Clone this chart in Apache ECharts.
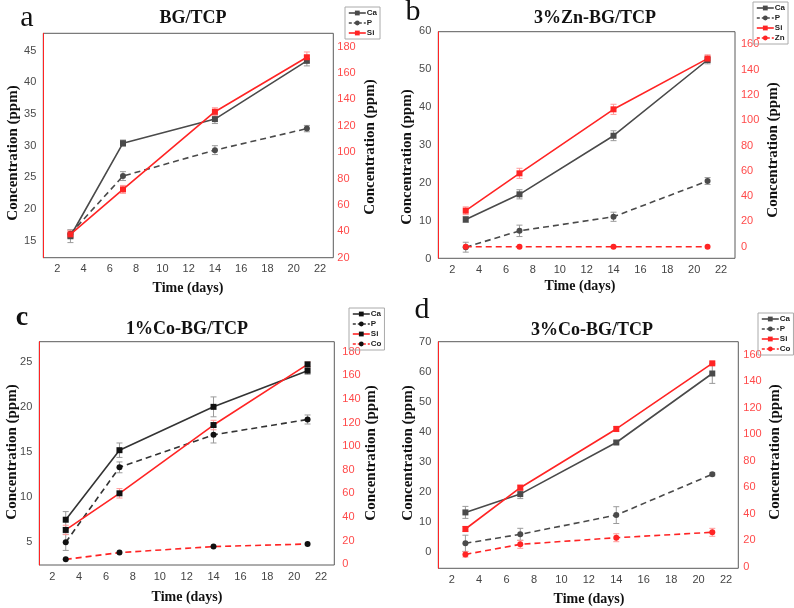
<!DOCTYPE html>
<html>
<head>
<meta charset="utf-8">
<script src="https://cdn.jsdelivr.net/npm/echarts@6/dist/echarts.min.js"></script>
<style>
html, body { margin: 0; padding: 0; background: #fff; }
#chart { width: 794px; height: 608px; }
</style>
</head>
<body>
<div id="chart"></div>
<script>
const days = [3, 7, 14, 21]

// a: BG/TCP
const caA = [15.7, 30.4, 34.2, 43.4]
const caAErr = [1.0, 0.5, 0.7, 0.8]
const pA = [16.1, 25.2, 29.3, 32.7]
const pAErr = [0.6, 0.7, 0.7, 0.5]
const siA = [37.7, 71.8, 130.7, 172]
const siAErr = [3, 3, 3, 4]

// b: 3%Zn-BG/TCP
const caB = [10.4, 17.0, 32.4, 52.3]
const caBErr = [0.8, 1.2, 1.3, 1.0]
const pB = [3.1, 7.4, 11.1, 20.5]
const pBErr = [1.3, 1.5, 1.2, 0.9]
const siB = [28.5, 58, 108.6, 148.7]
const siBErr = [3, 4, 4, 3]
const znB = [0, 0, 0, 0]

// c: 1%Co-BG/TCP
const caC = [7.5, 15.2, 20.0, 24.0]
const caCErr = [0.9, 0.8, 1.1, 0.4]
const pC = [5.0, 13.3, 16.9, 18.6]
const pCErr = [0.9, 0.6, 0.9, 0.5]
const siC = [29.1, 60.1, 117.9, 169.3]
const siCErr = [4, 4, 4, 2]
const coC = [4.2, 9.9, 15.0, 17.2]

// d: 3%Co-BG/TCP
const caD = [13.1, 19.2, 36.4, 59.4]
const caDErr = [2.0, 1.5, 0.5, 3.3]
const pD = [2.8, 5.8, 12.2, 25.8]
const pDErr = [2.7, 2.0, 2.8, 0.5]
const siD = [28.5, 59.7, 104.1, 153.7]
const siDErr = [2, 2, 2, 1]
const coD = [9.3, 16.9, 21.9, 26.0]
const coDErr = [2, 3, 3, 3]

const xTicks = { min: 2, max: 22, interval: 2 }

const GRAY = '#4a4a4a'
const RED = '#ff2424'
const RED_LABEL = '#ff4a4a'
const ERR_GRAY = '#9a9a9a'
const ERR_RED = '#ff9a9a'

const SANS = '"Liberation Sans", Arial, sans-serif'
const SERIF = '"Liberation Serif", "Times New Roman", serif'

// layout of each panel (pixels)
const panels = [
  {
    id: 'a', title: 'BG/TCP', letter: [27, 18], letterFont: 'normal 30px',
    titlePos: [193, 18],
    box: [43.3, 33.3, 333.3, 257.7], xPx: [57.3, 320],
    left: { min: 15, max: 45, interval: 5, top: 50.7, bottom: 240.7 },
    right: { min: 20, max: 180, interval: 20, top: 46.7, bottom: 257.7, margin: 4 },
    yTitleL: [13, 153], yTitleR: [370, 147], xTitle: [188, 288],
    legend: [345, 7],
    series: [
      { name: 'Ca', data: caA, err: caAErr, side: 'L', symbol: 'rect', color: GRAY },
      { name: 'P', data: pA, err: pAErr, side: 'L', symbol: 'circle', color: GRAY, dashed: true },
      { name: 'Si', data: siA, err: siAErr, side: 'R', symbol: 'rect', color: RED }
    ]
  },
  {
    id: 'b', title: '3%Zn-BG/TCP', letter: [413, 12], letterFont: 'normal 30px',
    titlePos: [595, 18],
    box: [438.3, 31.7, 735, 258.3], xPx: [452.3, 721],
    left: { min: 0, max: 60, interval: 10, top: 30.7, bottom: 259 },
    right: { min: 0, max: 160, interval: 20, top: 44.3, bottom: 246.7, margin: 6 },
    yTitleL: [407, 157], yTitleR: [773, 150], xTitle: [580, 286],
    legend: [753, 2],
    series: [
      { name: 'Ca', data: caB, err: caBErr, side: 'L', symbol: 'rect', color: GRAY },
      { name: 'P', data: pB, err: pBErr, side: 'L', symbol: 'circle', color: GRAY, dashed: true },
      { name: 'Si', data: siB, err: siBErr, side: 'R', symbol: 'rect', color: RED },
      { name: 'Zn', data: znB, side: 'R', symbol: 'circle', color: RED, dashed: true }
    ]
  },
  {
    id: 'c', title: '1%Co-BG/TCP', letter: [22, 318], letterFont: 'bold 28px',
    titlePos: [187, 329],
    box: [39.3, 341.7, 334.3, 565], xPx: [52.3, 321],
    left: { min: 5, max: 25, interval: 5, top: 361.7, bottom: 542.3 },
    right: { min: 0, max: 180, interval: 20, top: 351.7, bottom: 564.3, margin: 8 },
    yTitleL: [12, 452], yTitleR: [371, 453], xTitle: [187, 597],
    legend: [349, 308],
    marker: '#111',
    series: [
      { name: 'Ca', data: caC, err: caCErr, side: 'L', symbol: 'rect', color: '#333' },
      { name: 'P', data: pC, err: pCErr, side: 'L', symbol: 'circle', color: '#333', dashed: true },
      { name: 'Si', data: siC, err: siCErr, side: 'R', symbol: 'rect', color: RED },
      { name: 'Co', data: coC, side: 'R', symbol: 'circle', color: RED, dashed: true }
    ]
  },
  {
    id: 'd', title: '3%Co-BG/TCP', letter: [422, 310], letterFont: 'normal 30px',
    titlePos: [592, 330],
    box: [438.3, 341.7, 738.3, 568.3], xPx: [451.7, 726],
    left: { min: 0, max: 70, interval: 10, top: 341.7, bottom: 551.7 },
    right: { min: 0, max: 160, interval: 20, top: 355, bottom: 566.7, margin: 5 },
    yTitleL: [408, 453], yTitleR: [775, 452], xTitle: [589, 599],
    legend: [758, 313],
    series: [
      { name: 'Ca', data: caD, err: caDErr, side: 'L', symbol: 'rect', color: GRAY },
      { name: 'P', data: pD, err: pDErr, side: 'L', symbol: 'circle', color: GRAY, dashed: true },
      { name: 'Si', data: siD, err: siDErr, side: 'R', symbol: 'rect', color: RED },
      { name: 'Co', data: coD, err: coDErr, side: 'R', symbol: 'circle', color: RED, dashed: true }
    ]
  }
]

function errorBars (params, api) {
  const x = api.value(0)
  const v = api.value(1)
  const e = api.value(2)
  const hi = api.coord([x, v + e])
  const lo = api.coord([x, v - e])
  const style = { stroke: api.visual('color'), lineWidth: 1 }
  return {
    type: 'group',
    children: [
      { type: 'line', shape: { x1: hi[0], y1: hi[1], x2: lo[0], y2: lo[1] }, style },
      { type: 'line', shape: { x1: hi[0] - 3, y1: hi[1], x2: hi[0] + 3, y2: hi[1] }, style },
      { type: 'line', shape: { x1: lo[0] - 3, y1: lo[1], x2: lo[0] + 3, y2: lo[1] }, style }
    ]
  }
}

const grid = []
const xAxis = []
const yAxis = []
const series = []
const legend = []
const graphic = []

panels.forEach(p => {
  const [bl, bt, br, bb] = p.box
  const [x0, x1] = p.xPx
  const g = grid.length

  // frame of the panel
  grid.push({ left: bl, top: bt, width: br - bl, height: bb - bt, show: true, borderColor: '#5a5a5a', borderWidth: 1, outerBoundsMode: 'none' })
  xAxis.push({ gridIndex: g, type: 'value', min: 0, max: 1, show: false })
  yAxis.push({
    gridIndex: g, type: 'value', min: 0, max: 1, position: 'right',
    axisLine: { show: true, lineStyle: { color: RED, width: 1 } },
    axisTick: { show: false }, axisLabel: { show: false }, splitLine: { show: false }
  })

  // left value axis + visible time axis
  grid.push({ left: x0, top: p.left.top, width: x1 - x0, height: p.left.bottom - p.left.top, outerBoundsMode: 'none' })
  xAxis.push({
    gridIndex: g + 1, type: 'value', ...xTicks,
    offset: bb - p.left.bottom,
    axisLine: { show: false }, axisTick: { show: false }, splitLine: { show: false },
    axisLabel: { color: '#444', fontSize: 11, fontFamily: SANS, margin: 6 }
  })
  yAxis.push({
    gridIndex: g + 1, type: 'value', min: p.left.min, max: p.left.max, interval: p.left.interval,
    position: 'left', offset: x0 - bl,
    axisLine: { show: false }, axisTick: { show: false }, splitLine: { show: false },
    axisLabel: { color: '#4a4a4a', fontSize: 11, fontFamily: SANS, margin: 7 }
  })

  // right value axis
  grid.push({ left: x0, top: p.right.top, width: x1 - x0, height: p.right.bottom - p.right.top, outerBoundsMode: 'none' })
  xAxis.push({ gridIndex: g + 2, type: 'value', ...xTicks, show: false })
  yAxis.push({
    gridIndex: g + 2, type: 'value', min: p.right.min, max: p.right.max, interval: p.right.interval,
    position: 'right', offset: br - x1,
    axisLine: { show: false }, axisTick: { show: false }, splitLine: { show: false },
    axisLabel: { color: RED_LABEL, fontSize: 11, fontFamily: SANS, margin: p.right.margin }
  })

  const legendData = []
  p.series.forEach(s => {
    const idx = s.side === 'L' ? g + 1 : g + 2
    const name = s.name + '_' + p.id
    legendData.push({
      name,
      lineStyle: { color: s.color, width: 1.6, type: s.dashed ? [3, 2] : 'solid' }
    })
    series.push({
      name,
      type: 'line',
      xAxisIndex: idx,
      yAxisIndex: idx,
      data: days.map((d, i) => [d, s.data[i]]),
      symbol: s.symbol,
      symbolSize: 6,
      clip: false,
      z: 3,
      itemStyle: { color: p.marker || s.color },
      lineStyle: { color: s.color, width: 1.6, type: s.dashed ? [6, 4] : 'solid' }
    })
    if (s.err) {
      series.push({
        type: 'custom',
        xAxisIndex: idx,
        yAxisIndex: idx,
        renderItem: errorBars,
        itemStyle: { color: s.color === RED ? ERR_RED : ERR_GRAY },
        encode: { x: 0, y: 1 },
        data: days.map((d, i) => [d, s.data[i], s.err[i]]),
        z: 2,
        silent: true
      })
    }
  })

  legend.push({
    data: legendData,
    orient: 'vertical',
    left: p.legend[0],
    top: p.legend[1],
    itemWidth: 17,
    itemHeight: 6,
    itemGap: 2,
    padding: [2, 3, 2, 3],
    borderColor: '#aaa',
    borderWidth: 1,
    selectedMode: false,
    formatter: n => n.split('_')[0],
    textStyle: { fontSize: 8, fontWeight: 'bold', fontFamily: SANS, color: '#222', padding: [0, 0, 0, -4] }
  })

  graphic.push(
    { type: 'text', x: p.letter[0], y: p.letter[1], style: { text: p.id, font: p.letterFont + ' ' + SERIF, fill: '#111', align: 'center', verticalAlign: 'middle' } },
    { type: 'text', x: p.titlePos[0], y: p.titlePos[1], style: { text: p.title, font: 'bold 18px ' + SERIF, fill: '#111', align: 'center', verticalAlign: 'middle' } },
    { type: 'text', x: p.xTitle[0], y: p.xTitle[1], style: { text: 'Time (days)', font: 'bold 14px ' + SERIF, fill: '#111', align: 'center', verticalAlign: 'middle' } },
    { type: 'text', x: p.yTitleL[0], y: p.yTitleL[1], rotation: Math.PI / 2, style: { text: 'Concentration (ppm)', font: 'bold 15px ' + SERIF, fill: '#111', align: 'center', verticalAlign: 'middle' } },
    { type: 'text', x: p.yTitleR[0], y: p.yTitleR[1], rotation: Math.PI / 2, style: { text: 'Concentration (ppm)', font: 'bold 15px ' + SERIF, fill: '#111', align: 'center', verticalAlign: 'middle' } }
  )
})

const myChart = echarts.init(document.getElementById('chart'))
myChart.setOption({
  backgroundColor: '#fff',
  animation: false,
  grid,
  xAxis,
  yAxis,
  legend,
  series,
  graphic
})
</script>
</body>
</html>
